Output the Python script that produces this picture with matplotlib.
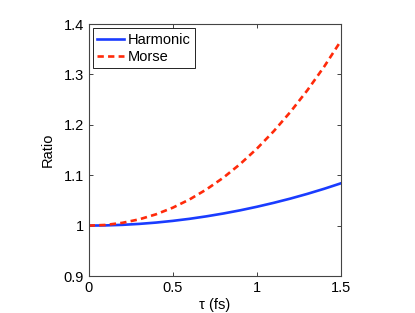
import matplotlib
matplotlib.use("Agg")
import matplotlib.pyplot as plt

# data
tau = [0.0, 0.1, 0.2, 0.3, 0.4, 0.5, 0.6, 0.7, 0.8, 0.9, 1.0, 1.1, 1.2, 1.3, 1.4, 1.5]
harmonic = [1.0, 1.0004, 1.0015, 1.0034, 1.006, 1.0094, 1.0135, 1.0184, 1.024, 1.0303,
            1.0374, 1.0452, 1.0537, 1.063, 1.0731, 1.084]
morse = [1.0, 1.0013, 1.0055, 1.0124, 1.0224, 1.0356, 1.052, 1.0718, 1.095, 1.122,
         1.1527, 1.1873, 1.2259, 1.2686, 1.3155, 1.367]

xticks = [0, 0.5, 1, 1.5]
xticklabels = ["0", "0.5", "1", "1.5"]
yticks = [0.9, 1.0, 1.1, 1.2, 1.3, 1.4]
yticklabels = ["0.9", "1", "1.1", "1.2", "1.3", "1.4"]

plt.rcParams['font.family'] = ['Liberation Sans', 'DejaVu Sans']
plt.rcParams['font.size'] = 10.5

fig = plt.figure(figsize=(4.15, 3.13), dpi=100)
ax = fig.add_axes([0.2137, 0.1182, 0.608, 0.805])

ax.plot(tau, harmonic, '-', color='#1a3cff', lw=1.9, label='Harmonic')
ax.plot(tau, morse, '--', color='#ff2a0a', lw=1.9, dashes=(2.4, 1.6), label='Morse')

ax.set_xlim(0, 1.5)
ax.set_ylim(0.9, 1.4)
ax.set_xticks(xticks)
ax.set_xticklabels(xticklabels)
ax.set_yticks(yticks)
ax.set_yticklabels(yticklabels)
ax.tick_params(direction='in', top=True, right=True, length=3, width=0.6, colors='#222222', labelcolor='black')
for s in ax.spines.values():
    s.set_linewidth(0.8)
    s.set_color('#444444')

ax.set_xlabel('τ (fs)', labelpad=2)
ax.set_ylabel('Ratio', labelpad=6)

leg = ax.legend(loc='upper left', bbox_to_anchor=(0.0, 1.0), fancybox=False, framealpha=1,
                edgecolor='black', handlelength=1.85, handletextpad=0.2, borderpad=0.3,
                labelspacing=0.22, borderaxespad=0.3)
leg.get_frame().set_linewidth(0.6)

fig.savefig('out.png', dpi=100)
